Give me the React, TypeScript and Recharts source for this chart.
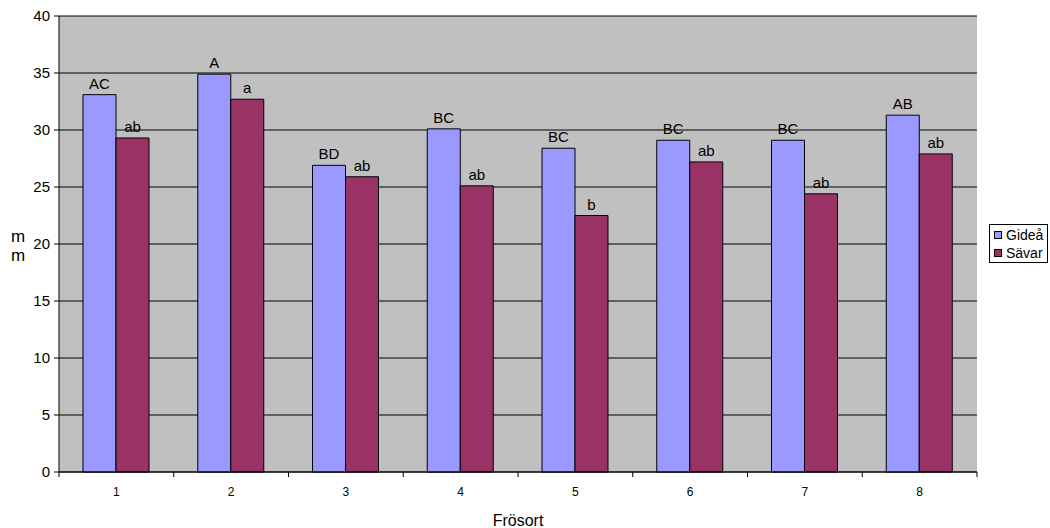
import React from 'react';
import {
  BarChart, Bar, XAxis, YAxis, CartesianGrid, LabelList, Label,
} from 'recharts';

const categories = ['1', '2', '3', '4', '5', '6', '7', '8'];
const gidea = [33.1, 34.9, 26.9, 30.1, 28.4, 29.1, 29.1, 31.3];
const savar = [29.3, 32.7, 25.9, 25.1, 22.5, 27.2, 24.4, 27.9];
const gideaLetters = ['AC', 'A', 'BD', 'BC', 'BC', 'BC', 'BC', 'AB'];
const savarLetters = ['ab', 'a', 'ab', 'ab', 'b', 'ab', 'ab', 'ab'];
const yTicks = [0, 5, 10, 15, 20, 25, 30, 35, 40];
const series = [
  { key: 'gidea', label: 'Gideå', color: '#9999FF' },
  { key: 'savar', label: 'Sävar', color: '#993366' },
];

const W = 1050;
const H = 528;
const M = { top: 16, right: 73, left: 0, bottom: 0 };
const Y_W = 59;
const PLOT_W = W - M.right - Y_W;
const STEP = PLOT_W / categories.length;
const FONT = 'Arial, "Liberation Sans", sans-serif';

const data = categories.map((c, i) => ({
  name: c,
  gidea: gidea[i],
  savar: savar[i],
  gl: gideaLetters[i],
  sl: savarLetters[i],
}));

const XTick = (props: any) => {
  const { x, y, payload, index } = props;
  return (
    <g>
      <line x1={x - STEP / 2} x2={x - STEP / 2} y1={y} y2={y + 5} stroke="#000" />
      {index === categories.length - 1 && (
        <line x1={x + STEP / 2} x2={x + STEP / 2} y1={y} y2={y + 5} stroke="#000" />
      )}
      <text x={x} y={y + 24} textAnchor="middle" fontSize={12} fontFamily={FONT} fill="#000">
        {payload.value}
      </text>
    </g>
  );
};

const LegendBox = () => (
  <div
    style={{
      position: 'absolute',
      left: 989,
      top: 224,
      border: '1px solid #000',
      background: '#fff',
      width: 59,
      height: 39,
      fontFamily: FONT,
      fontSize: 14,
      lineHeight: '18px',
      boxSizing: 'border-box',
      padding: '1px 0 0 4px',
      color: '#000',
    }}
  >
    {series.map((it) => (
      <div key={it.key} style={{ display: 'flex', alignItems: 'center' }}>
        <span
          style={{
            display: 'inline-block',
            width: 6,
            height: 6,
            background: it.color,
            border: '1px solid #000',
            marginRight: 4,
          }}
        />
        {it.label}
      </div>
    ))}
  </div>
);

const labelStyle = { fontSize: 15, fontFamily: FONT, fill: '#000' };

export default function App() {
  return (
    <div style={{ position: 'absolute', left: 0, top: 0, width: W, height: H, background: '#fff' }}>
      <BarChart width={W} height={H} data={data} margin={M} barGap={0} barSize={33}>
        <CartesianGrid vertical={false} stroke="#000" fill="#C0C0C0" fillOpacity={1} />
        <XAxis
          dataKey="name"
          stroke="#000"
          tickLine={false}
          tickSize={0}
          tickMargin={0}
          tick={<XTick />}
          interval={0}
          height={56}
        >
          <Label
            value="Frösort"
            position="insideBottom"
            offset={2}
            style={{ fontSize: 16, fontFamily: FONT, fill: '#000' }}
          />
        </XAxis>
        <YAxis
          width={Y_W}
          domain={[0, 40]}
          ticks={yTicks}
          stroke="#000"
          tickSize={5}
          tickMargin={4}
          tick={{ fontSize: 15, fontFamily: FONT, fill: '#000' }}
        >
          <Label
            content={({ viewBox }: any) => {
              const cx = viewBox.x + 18;
              const cy = viewBox.y + viewBox.height / 2;
              return (
                <text x={cx} y={cy - 2} textAnchor="middle" fontSize={17} fontFamily={FONT} fill="#000">
                  <tspan x={cx} dy={0}>m</tspan>
                  <tspan x={cx} dy={19}>m</tspan>
                </text>
              );
            }}
          />
        </YAxis>
        <YAxis
          yAxisId="frame"
          orientation="right"
          width={0}
          domain={[0, 40]}
          stroke="#808080"
          tick={false}
          tickLine={false}
        />
        <Bar dataKey="gidea" name="Gideå" fill="#9999FF" stroke="#000" strokeWidth={1} isAnimationActive={false}>
          <LabelList dataKey="gl" position="top" offset={6} style={labelStyle} />
        </Bar>
        <Bar dataKey="savar" name="Sävar" fill="#993366" stroke="#000" strokeWidth={1} isAnimationActive={false}>
          <LabelList dataKey="sl" position="top" offset={6} style={labelStyle} />
        </Bar>
      </BarChart>
      <LegendBox />
    </div>
  );
}
